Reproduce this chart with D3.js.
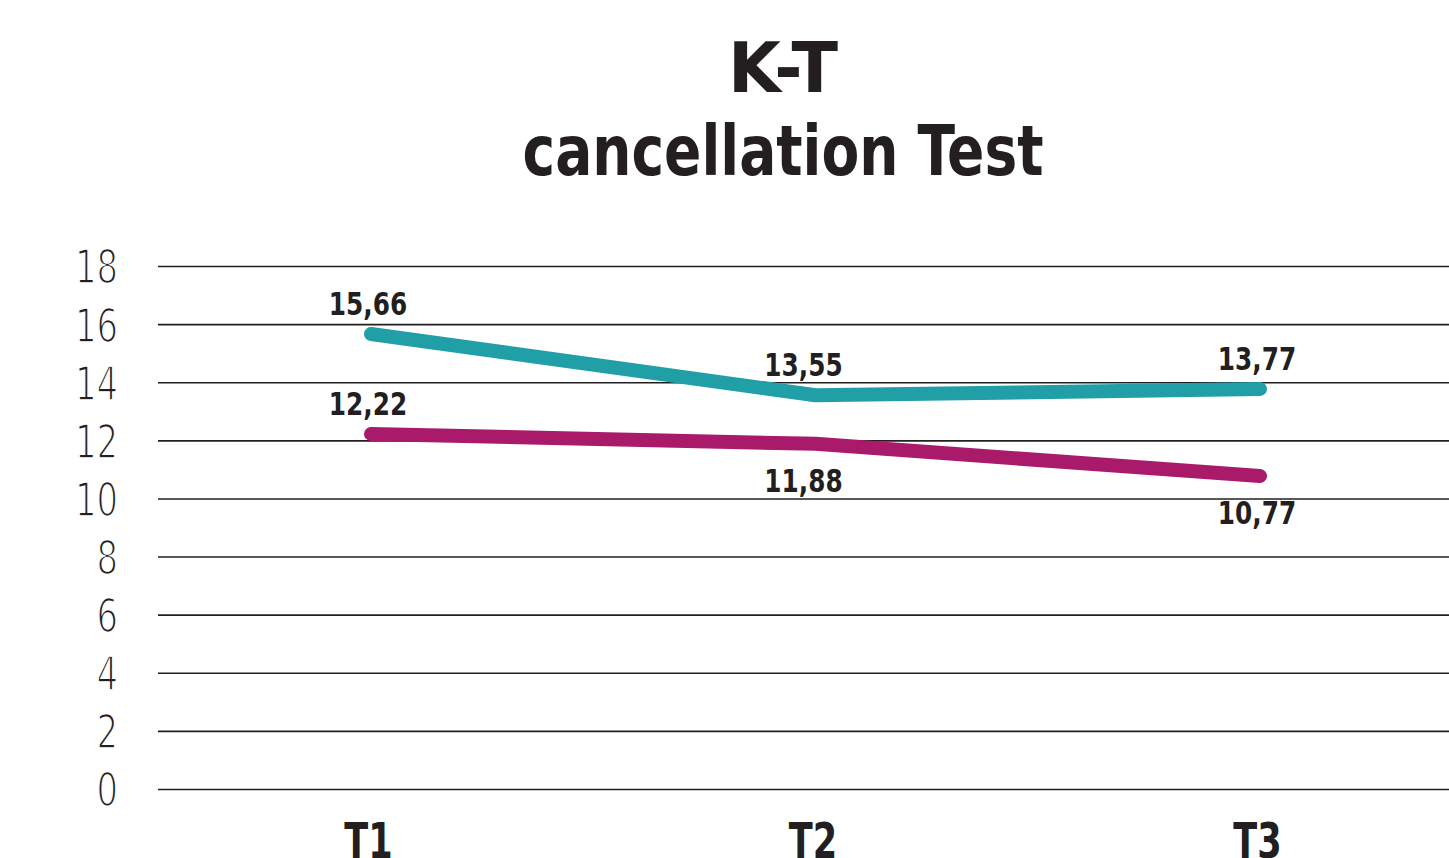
<!DOCTYPE html>
<html>
<head>
<meta charset="utf-8">
<script src="https://cdn.jsdelivr.net/npm/d3@7"></script>
<style>
  body { margin: 0; background: #fff; }
  text { font-family: "Liberation Sans Narrow", "DejaVu Sans Condensed", Roboto, sans-serif; }
</style>
</head>
<body>
<div id="chart"></div>
<script>
var categories = ["T1", "T2", "T3"];
var tealValues = [15.66, 13.55, 13.77];
var magentaValues = [12.22, 11.88, 10.77];
var yTicks = [0, 2, 4, 6, 8, 10, 12, 14, 16, 18];
var titleLines = ["K-T", "cancellation Test"];

var svgWidth = 1449;
var svgHeight = 858;

var svg = d3.select("#chart")
  .append("svg")
  .attr("width", svgWidth)
  .attr("height", svgHeight);

var yScale = d3.scaleLinear().domain([0, 18]).range([789, 266]);
var xScale = d3.scalePoint().domain(categories).range([371, 1260]);

// squeeze text horizontally so it looks like the condensed face of the original
function condense(sel, k) {
  sel.each(function() {
    var w = this.getComputedTextLength();
    d3.select(this)
      .attr("textLength", w * k)
      .attr("lengthAdjust", "spacingAndGlyphs");
  });
}

// title
var titleWidths = [110, 521];
svg.selectAll(".title")
  .data(titleLines)
  .enter()
  .append("text")
  .attr("class", "title")
  .attr("x", 783)
  .attr("y", function(d, i) { return 92 + i * 83; })
  .attr("text-anchor", "middle")
  .attr("textLength", function(d, i) { return titleWidths[i]; })
  .attr("lengthAdjust", "spacingAndGlyphs")
  .style("font-size", "70px")
  .style("font-weight", "bold")
  .style("fill", "#231f20")
  .text(function(d) { return d; });

// gridlines + tick labels
var leftAxis = d3.axisLeft(yScale)
  .tickValues(yTicks)
  .tickSize(-(svgWidth - 158))
  .tickPadding(40)
  .tickFormat(d3.format("d"));

var yAxis = svg.append("g")
  .attr("transform", "translate(158,0)")
  .call(leftAxis);

yAxis.select(".domain").remove();
yAxis.selectAll(".tick line")
  .attr("stroke", "#231f20")
  .attr("stroke-width", 1.6);
// white stroke over the fill thins the glyphs toward the light face
yAxis.selectAll(".tick text")
  .attr("dy", "0.36em")
  .style("font-size", "47px")
  .style("font-weight", "normal")
  .style("fill", "#231f20")
  .style("stroke", "#fff")
  .style("stroke-width", "1.6px")
  .style("paint-order", "fill")
  .call(condense, 0.8);

// x labels
var bottomAxis = d3.axisBottom(xScale).tickSize(0).tickPadding(0);
var xAxis = svg.append("g")
  .attr("transform", "translate(-3,858)")
  .call(bottomAxis);
xAxis.select(".domain").remove();
xAxis.selectAll(".tick text")
  .attr("dy", 0)
  .style("font-size", "50px")
  .style("font-weight", "bold")
  .style("fill", "#231f20")
  .call(condense, 0.78);

var line = d3.line()
  .x(function(d, i) { return xScale(categories[i]); })
  .y(function(d) { return yScale(d); });

var series = [
  { values: tealValues, color: "#219fa6", above: [true, true, true] },
  { values: magentaValues, color: "#a91a6b", above: [true, false, false] }
];

series.forEach(function(s) {
  svg.append("path")
    .datum(s.values)
    .attr("d", line)
    .attr("fill", "none")
    .attr("stroke", s.color)
    .attr("stroke-width", 14)
    .attr("stroke-linecap", "round")
    .attr("stroke-linejoin", "round");

  svg.selectAll(null)
    .data(s.values)
    .enter()
    .append("text")
    .attr("x", function(d, i) { return xScale(categories[i]) - (i === 1 ? 12 : 3); })
    .attr("y", function(d, i) { return yScale(d) + (s.above[i] ? -19 : 48); })
    .attr("text-anchor", "middle")
    .style("font-size", "32px")
    .style("font-weight", "bold")
    .style("fill", "#231f20")
    .text(function(d) { return d.toFixed(2).replace(".", ","); })
    .call(condense, 0.86);
});
</script>
</body>
</html>
